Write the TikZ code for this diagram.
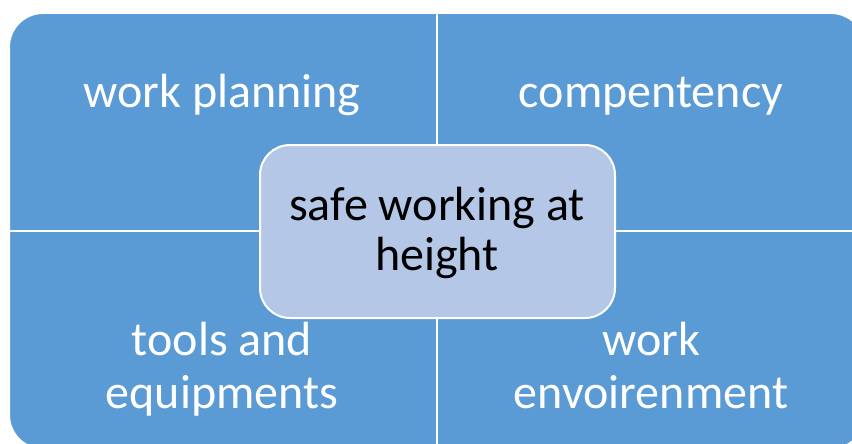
\documentclass[tikz,border=0pt]{standalone}
\usepackage{fontspec}
\setmainfont{Carlito}
\definecolor{quadblue}{HTML}{5B9BD5}
\definecolor{centerblue}{HTML}{B4C7E7}
\begin{document}
\begin{tikzpicture}[x=1pt,y=-1pt,
  quad/.style={fill=quadblue,draw=white,line width=2pt,rounded corners=34pt},
  divider/.style={draw=white,line width=2pt},
  quadtext/.style={text=white,font=\fontsize{48}{53}\selectfont,align=center,anchor=base,inner sep=0pt},
  hub/.style={fill=centerblue,draw=white,line width=2pt,rounded corners=30pt},
  hubtext/.style={text=black,font=\fontsize{48}{50}\selectfont,align=center,anchor=base,inner sep=0pt}]
\useasboundingbox (0,0) rectangle (852,444);
\begin{scope}
\clip (0,0) rectangle (852,444);
\draw[quad] (9,13) rectangle (865,449);
\coordinate (vt) at (437,13);
\coordinate (vb) at (437,449);
\coordinate (hl) at (9,231);
\coordinate (hr) at (865,231);
\draw[divider] (vt) -- (vb);
\draw[divider] (hl) -- (hr);
\end{scope}
\node[quadtext] (wp) at (222,107) {work planning};
\node[quadtext] (cp) at (651,107) {compentency};
\node[quadtext] (te) at (222,408) {tools and\\equipments};
\node[quadtext] (we) at (651,408) {work\\envoirenment};
\draw[hub] (260,145) rectangle (615,318);
\node[hubtext] (hub) at (437,270) {safe working at\\height};
\end{tikzpicture}
\end{document}
